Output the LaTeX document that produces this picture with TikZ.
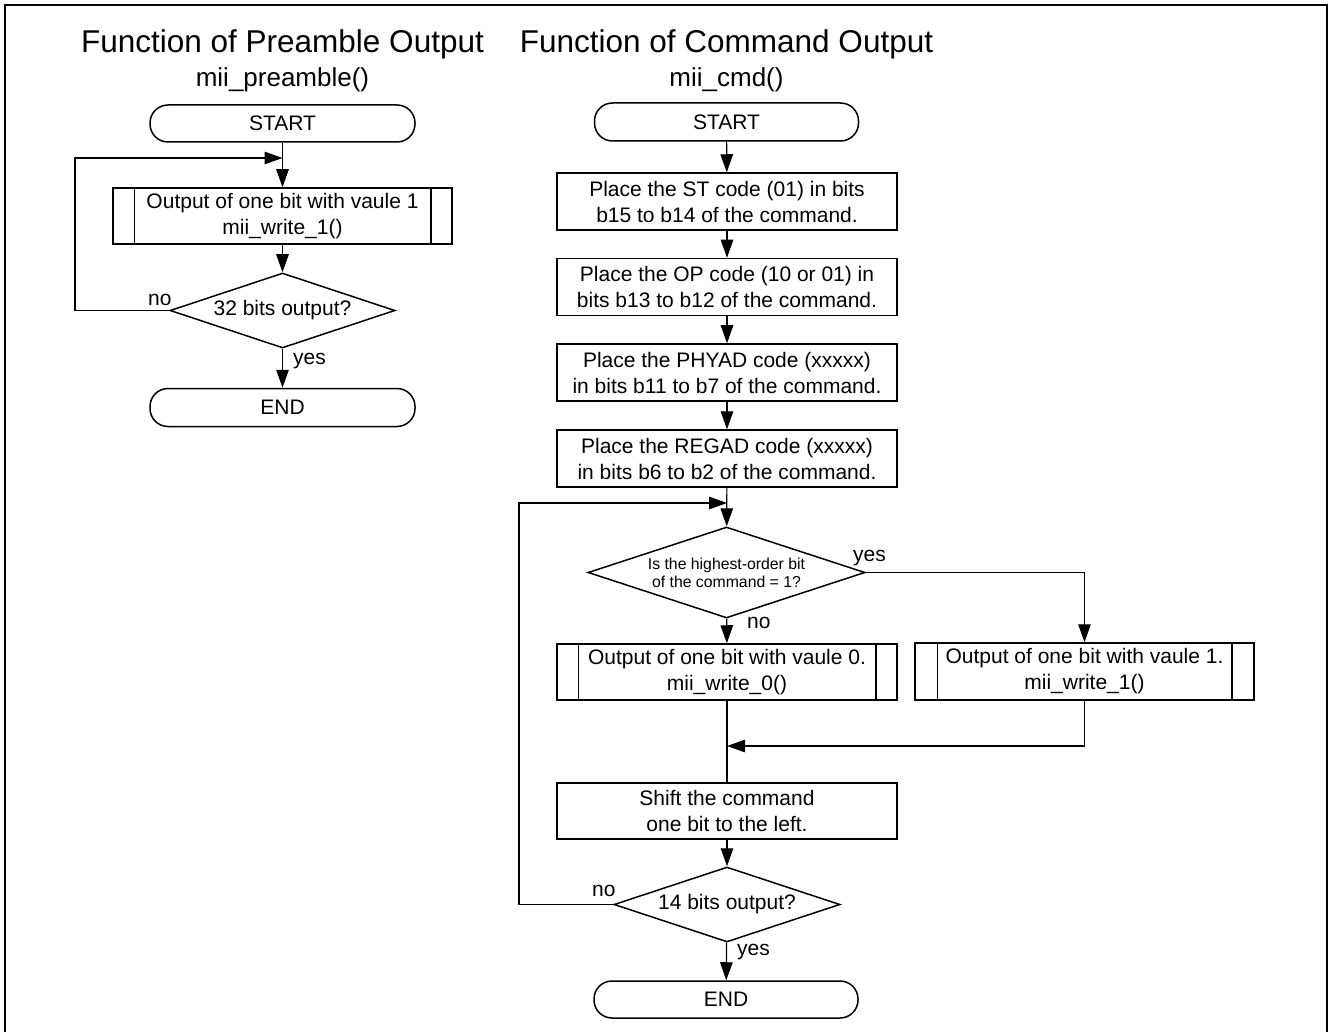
\documentclass[tikz,border=0pt]{standalone}
\usepackage{fontspec}
\setmainfont{Liberation Sans}
\usetikzlibrary{arrows.meta,shapes.geometric}

\tikzset{
  conn/.style={line width=1.2pt, draw=black},
  arr/.style={conn, -{Triangle[length=18pt,width=12.5pt]}},
  shp/.style={draw=black, line width=1.5pt, inner sep=0pt, align=center,
              font=\fontsize{21}{26}\selectfont},
  terminal/.style={shp, rounded corners=18pt, minimum width=265pt, minimum height=37pt},
  procbox/.style={shp, rectangle, minimum width=340pt, minimum height=57pt},
  predef/.style={procbox},
  decision/.style={shp, diamond, aspect=3},
  lbl/.style={inner sep=0pt, anchor=base west, font=\fontsize{21}{26}\selectfont},
  title/.style={inner sep=0pt, anchor=base, font=\fontsize{31.5}{36}\selectfont},
  subtitle/.style={inner sep=0pt, anchor=base, font=\fontsize{26}{30}\selectfont},
}

% side bars of a predefined-process box
\newcommand{\sidebars}[2]{%
  \draw[line width=1.5pt] ([xshift=#2]#1.north west) -- ([xshift=#2]#1.south west);
  \draw[line width=1.5pt] ([xshift=-#2]#1.north east) -- ([xshift=-#2]#1.south east);}

\begin{document}
\begin{tikzpicture}[x=1pt,y=-1pt]
\useasboundingbox (0,0) rectangle (1328,1032);
\draw[line width=2pt] (5,1040) -- (5,5) -- (1327,5) -- (1327,1040);

% ---------- preamble output ----------
\node[title]    (t1)  at (282.5,53) {Function of Preamble Output};
\node[subtitle] (st1) at (282.5,87) {mii\_preamble()};

\node[terminal] (s1) at (282.5,123.5) {START};
\node[predef, minimum width=339pt, minimum height=56pt] (p1) at (282.5,216)
  {Output of one bit with vaule 1\\mii\_write\_1()};
\sidebars{p1}{22pt}
\node[decision, minimum width=225pt, minimum height=75pt] (d1) at (282.5,310.5)
  {32 bits output?};
\node[terminal, minimum height=38pt] (e1) at (282.5,407.5) {END};

\coordinate (l1a) at (75,158);
\coordinate (l1b) at (282.5,158);

\draw[arr] (s1) -- (p1);
\draw[arr] (p1) -- (d1);
\draw[arr] (d1) -- (e1);
\draw[arr] (d1.west) -- (d1.west -| l1a) -- (l1a) -- (l1b);
\node[lbl] (n1) at (148,306) {no};
\node[lbl] (y1) at (293,364) {yes};

% ---------- command output ----------
\node[title]    (t2)  at (726.5,53) {Function of Command Output};
\node[subtitle] (st2) at (726.5,87) {mii\_cmd()};

\node[terminal, minimum width=264pt, minimum height=38pt] (s2) at (726.5,122) {START};
\node[procbox] (b1) at (727,201.5)
  {Place the ST code (01) in bits\\b15 to b14 of the command.};
\node[procbox] (b2) at (727,287)
  {Place the OP code (10 or 01) in\\bits b13 to b12 of the command.};
\node[procbox] (b3) at (727,372.5)
  {Place the PHYAD code (xxxxx)\\in bits b11 to b7 of the command.};
\node[procbox] (b4) at (727,458.5)
  {Place the REGAD code (xxxxx)\\in bits b6 to b2 of the command.};
\node[decision, minimum width=277pt, minimum height=91pt,
      font=\fontsize{15.8}{18}\selectfont] (d2) at (726.5,572.5)
  {Is the highest-order bit\\of the command = 1?};
\node[predef, minimum height=56pt] (p2) at (727,672)
  {Output of one bit with vaule 0.\\mii\_write\_0()};
\sidebars{p2}{22pt}
\node[predef, minimum width=339pt] (p3) at (1084.5,671.5)
  {Output of one bit with vaule 1.\\mii\_write\_1()};
\sidebars{p3}{23pt}
\node[procbox, minimum height=56pt] (b5) at (727,811)
  {Shift the command\\one bit to the left.};
\node[decision, minimum width=226pt, minimum height=75pt] (d3) at (727,904.5)
  {14 bits output?};
\node[terminal, minimum width=264pt] (e2) at (726,999.5) {END};

\coordinate (mg)  at (727,746);
\coordinate (l2a) at (519,503);
\coordinate (l2b) at (727,503);

\draw[arr] (s2) -- (b1);
\draw[arr] (b1) -- (b2);
\draw[arr] (b2) -- (b3);
\draw[arr] (b3) -- (b4);
\draw[arr] (b4) -- (d2);
\draw[arr] (d2) -- (p2);
\draw[arr] (d2.east) -| (p3.north);
\draw[conn] (p2) -- (b5);
\draw[arr] (p3.south) |- (mg);
\draw[arr] (b5) -- (d3);
\draw[arr] (d3) -- (e2);
\draw[arr] (d3.west) -- (d3.west -| l2a) -- (l2a) -- (l2b);

\node[lbl] (y2) at (853,561) {yes};
\node[lbl] (n2) at (747,628) {no};
\node[lbl] (n3) at (592,896) {no};
\node[lbl] (y3) at (737,955) {yes};
\end{tikzpicture}
\end{document}
